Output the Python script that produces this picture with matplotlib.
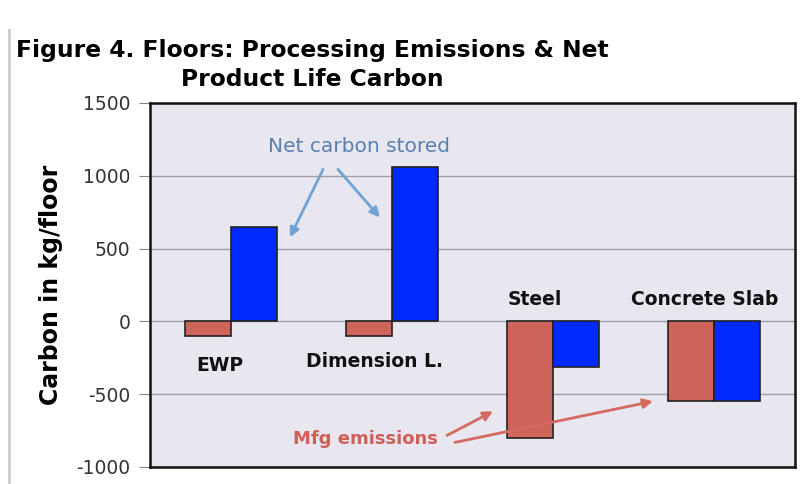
import matplotlib
matplotlib.use("Agg")
import matplotlib.pyplot as plt
from matplotlib.lines import Line2D

plt.rcParams["axes.unicode_minus"] = False

categories = ["EWP", "Dimension L.", "Steel", "Concrete Slab"]
mfg_emissions = [-100, -100, -800, -550]
net_carbon = [650, 1060, -310, -550]
label_x = [-0.066, 0.895, 1.888, 2.942]
label_y = [-300, -275, 151, 151]

RED = "#cf645a"
BLUE = "#0029ff"

fig = plt.figure(figsize=(8.07, 4.84), dpi=100)
ax = fig.add_axes([150 / 807, 17 / 484, 645 / 807, 364 / 484])
ax.set_facecolor("#e8e6ef")

x = list(range(len(categories)))
w = 0.286
ax.bar([i - w / 2 for i in x], mfg_emissions, w, color=RED, edgecolor="#222222",
       linewidth=1.2, zorder=3)
ax.bar([i + w / 2 for i in x], net_carbon, w, color=BLUE, edgecolor="#222222",
       linewidth=1.2, zorder=3)

for name, lx, ly in zip(categories, label_x, label_y):
    ax.text(lx, ly, name, ha="center", va="center",
            fontsize=13.5, fontweight="bold", color="#111111", zorder=4)

ax.set_xlim(-0.5, 3.5)
ax.set_ylim(-1000, 1500)
ax.set_yticks([-1000, -500, 0, 500, 1000, 1500])
ax.set_xticks([])
ax.yaxis.grid(True, color="#a09ea8", linewidth=1.0, zorder=0)
ax.tick_params(axis="y", direction="out", length=8, color="#888888",
               labelsize=13.5, labelcolor="#333333", pad=6)
for s in ax.spines.values():
    s.set_linewidth(1.8)
    s.set_color("#111111")
ax.set_ylabel("Carbon in kg/floor", fontsize=17, fontweight="bold", labelpad=10)

# annotations
ax.text(0.232, 1202, "Net carbon stored", color="#5a80b0", fontsize=14.5,
        ha="left", va="center", zorder=5)
blue_arrow = dict(arrowstyle="-|>", color="#6fa3d6", lw=2, mutation_scale=14,
                  shrinkA=0, shrinkB=0)
ax.annotate("", xy=(0.368, 577), xytext=(0.573, 1044), arrowprops=blue_arrow, zorder=5)
ax.annotate("", xy=(0.926, 714), xytext=(0.666, 1044), arrowprops=blue_arrow, zorder=5)

ax.text(0.387, -810, "Mfg emissions", color="#cf5f58", fontsize=13,
        fontweight="bold", ha="left", va="center", zorder=5)
red_arrow = dict(arrowstyle="-|>", color="#d46a62", lw=2, mutation_scale=14,
                 shrinkA=0, shrinkB=0)
ax.annotate("", xy=(1.627, -618), xytext=(1.342, -783), arrowprops=red_arrow, zorder=5)
ax.annotate("", xy=(2.619, -549), xytext=(1.391, -831), arrowprops=red_arrow, zorder=5)

fig.text(312 / 807, 1 - 65 / 484,
         "Figure 4. Floors: Processing Emissions & Net\nProduct Life Carbon",
         ha="center", va="center", fontsize=16.8, fontweight="bold",
         linespacing=1.3)

fig.add_artist(Line2D([9 / 807, 9 / 807], [0, 1 - 30 / 484], color="#cccccc",
                      lw=2, transform=fig.transFigure))

fig.savefig("out.png", dpi=100)
